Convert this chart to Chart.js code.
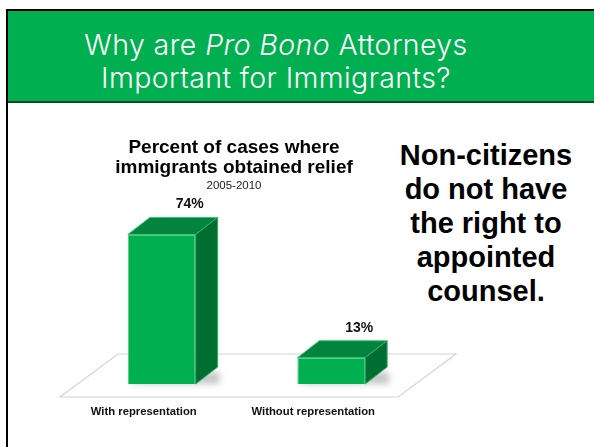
<!DOCTYPE html>
<html>
<head>
<meta charset="utf-8">
<script src="https://cdn.jsdelivr.net/npm/chart.js@4"></script>
<style>
  html, body { margin: 0; padding: 0; background: #ffffff; }
  body { width: 594px; height: 447px; position: relative; overflow: hidden; }
  #frame { position: absolute; left: 6px; top: 9px; width: 600px; height: 460px;
           border-left: 2px solid #000; border-top: 2px solid #000; box-sizing: border-box; }
  #header { position: absolute; left: 8px; top: 11px; width: 600px; height: 90px;
            background: #00B050; border-bottom: 2px solid #0b4a24; }
  #htitle { position: absolute; left: 0; width: 552px; top: 28px; text-align: center;
            color: #ffffff; font-family: "Inter", "Open Sans", "Liberation Sans", sans-serif; font-weight: 300;
            font-size: 28.5px; line-height: 33px; letter-spacing: 0.4px; white-space: nowrap; }
  #side { position: absolute; left: 386px; width: 200px; top: 138px; text-align: center;
          color: #000; font-family: "Liberation Sans", Arial, sans-serif; font-weight: bold;
          font-size: 29px; line-height: 34px; }
  #c { position: absolute; left: 0; top: 0; }
</style>
</head>
<body>
<div id="frame"></div>
<div id="header"></div>
<div id="htitle">Why are <i>Pro Bono</i> Attorneys<br>Important for Immigrants?</div>
<div id="side">Non-citizens<br>do not have<br>the right to<br>appointed<br>counsel.</div>
<canvas id="c" width="594" height="447"></canvas>
<script>
// ---- data ----
const categories = ["With representation", "Without representation"];
const reliefPercent = [74, 13];
const chartTitle = ["Percent of cases where", "immigrants obtained relief"];
const chartSubtitle = "2005-2010";

const DX = 22, DY = -17;

const box3d = {
  id: 'box3d',
  beforeDatasetsDraw(chart) {
    const ctx = chart.ctx, a = chart.chartArea;
    const base = chart.scales.y.getPixelForValue(0);
    ctx.save();
    ctx.beginPath();
    ctx.moveTo(a.left - 17, base + 13);
    ctx.lineTo(a.right - 18, base + 13);
    ctx.lineTo(a.right + 40, base - 30);
    ctx.lineTo(a.left + 41, base - 30);
    ctx.closePath();
    ctx.fillStyle = '#ffffff';
    ctx.fill();
    ctx.strokeStyle = '#d4d4d4';
    ctx.lineWidth = 1.2;
    ctx.stroke();
    const meta = chart.getDatasetMeta(0);
    meta.data.forEach(bar => {
      const l = bar.x - bar.width / 2;
      ctx.save();
      ctx.filter = 'blur(3px)';
      ctx.fillStyle = 'rgba(0,0,0,0.22)';
      ctx.fillRect(l + 4, base - 12, bar.width + DX - 2, 12);
      ctx.restore();
    });
    ctx.restore();
  },
  afterDatasetsDraw(chart) {
    const ctx = chart.ctx;
    const meta = chart.getDatasetMeta(0);
    const ds = chart.data.datasets[0];
    ctx.save();
    meta.data.forEach((bar, i) => {
      const l = bar.x - bar.width / 2, r = bar.x + bar.width / 2;
      const t = bar.y, b = bar.base;
      ctx.beginPath();
      ctx.moveTo(l, t); ctx.lineTo(r, t); ctx.lineTo(r + DX, t + DY); ctx.lineTo(l + DX, t + DY);
      ctx.closePath();
      ctx.fillStyle = '#02843f'; ctx.fill();
      ctx.strokeStyle = '#3cc476'; ctx.lineWidth = 1; ctx.stroke();
      ctx.beginPath();
      ctx.moveTo(r, t); ctx.lineTo(r + DX, t + DY); ctx.lineTo(r + DX, b + DY); ctx.lineTo(r, b);
      ctx.closePath();
      ctx.fillStyle = '#006e31'; ctx.fill();
      ctx.strokeStyle = '#2fae66'; ctx.stroke();
      ctx.fillStyle = '#111';
      ctx.font = 'bold 14px "Liberation Sans", Arial, sans-serif';
      ctx.textAlign = 'center';
      ctx.textBaseline = 'middle';
      ctx.fillText(ds.data[i] + '%', bar.x + 28, t + DY - 13);
    });
    const tb = chart.titleBlock;
    ctx.fillStyle = '#222';
    ctx.font = '11.5px "Liberation Sans", Arial, sans-serif';
    ctx.textAlign = 'center';
    ctx.textBaseline = 'alphabetic';
    ctx.fillText(chartSubtitle, (tb.left + tb.right) / 2, tb.bottom - 5);
    ctx.restore();
  }
};

new Chart(document.getElementById('c'), {
  type: 'bar',
  data: {
    labels: categories,
    datasets: [{
      data: reliefPercent,
      backgroundColor: '#00B050',
      borderColor: '#4fd088',
      borderWidth: 1,
      barPercentage: 0.8,
      categoryPercentage: 0.5
    }]
  },
  options: {
    responsive: false,
    animation: false,
    layout: { padding: { left: 52, right: 178, top: 138, bottom: 7 } },
    plugins: {
      legend: { display: false },
      tooltip: { enabled: false },
      title: {
        display: true,
        text: chartTitle,
        color: '#000',
        font: { family: '"Liberation Sans", Arial, sans-serif', size: 19, weight: 'bold', lineHeight: 1.053 },
        padding: { top: 0, bottom: 16 }
      }
    },
    scales: {
      x: {
        grid: { display: false, drawTicks: false },
        border: { display: false },
        ticks: {
          color: '#111',
          font: { family: '"Liberation Sans", Arial, sans-serif', size: 11.3, weight: 'bold', lineHeight: 1.06 },
          padding: 22,
          labelOffset: -18
        }
      },
      y: {
        min: 0, max: 94,
        grid: { display: false, drawTicks: false },
        border: { display: false },
        ticks: { display: false },
        afterFit(axis) { axis.width = 25; }
      }
    }
  },
  plugins: [box3d]
});
</script>
</body>
</html>
